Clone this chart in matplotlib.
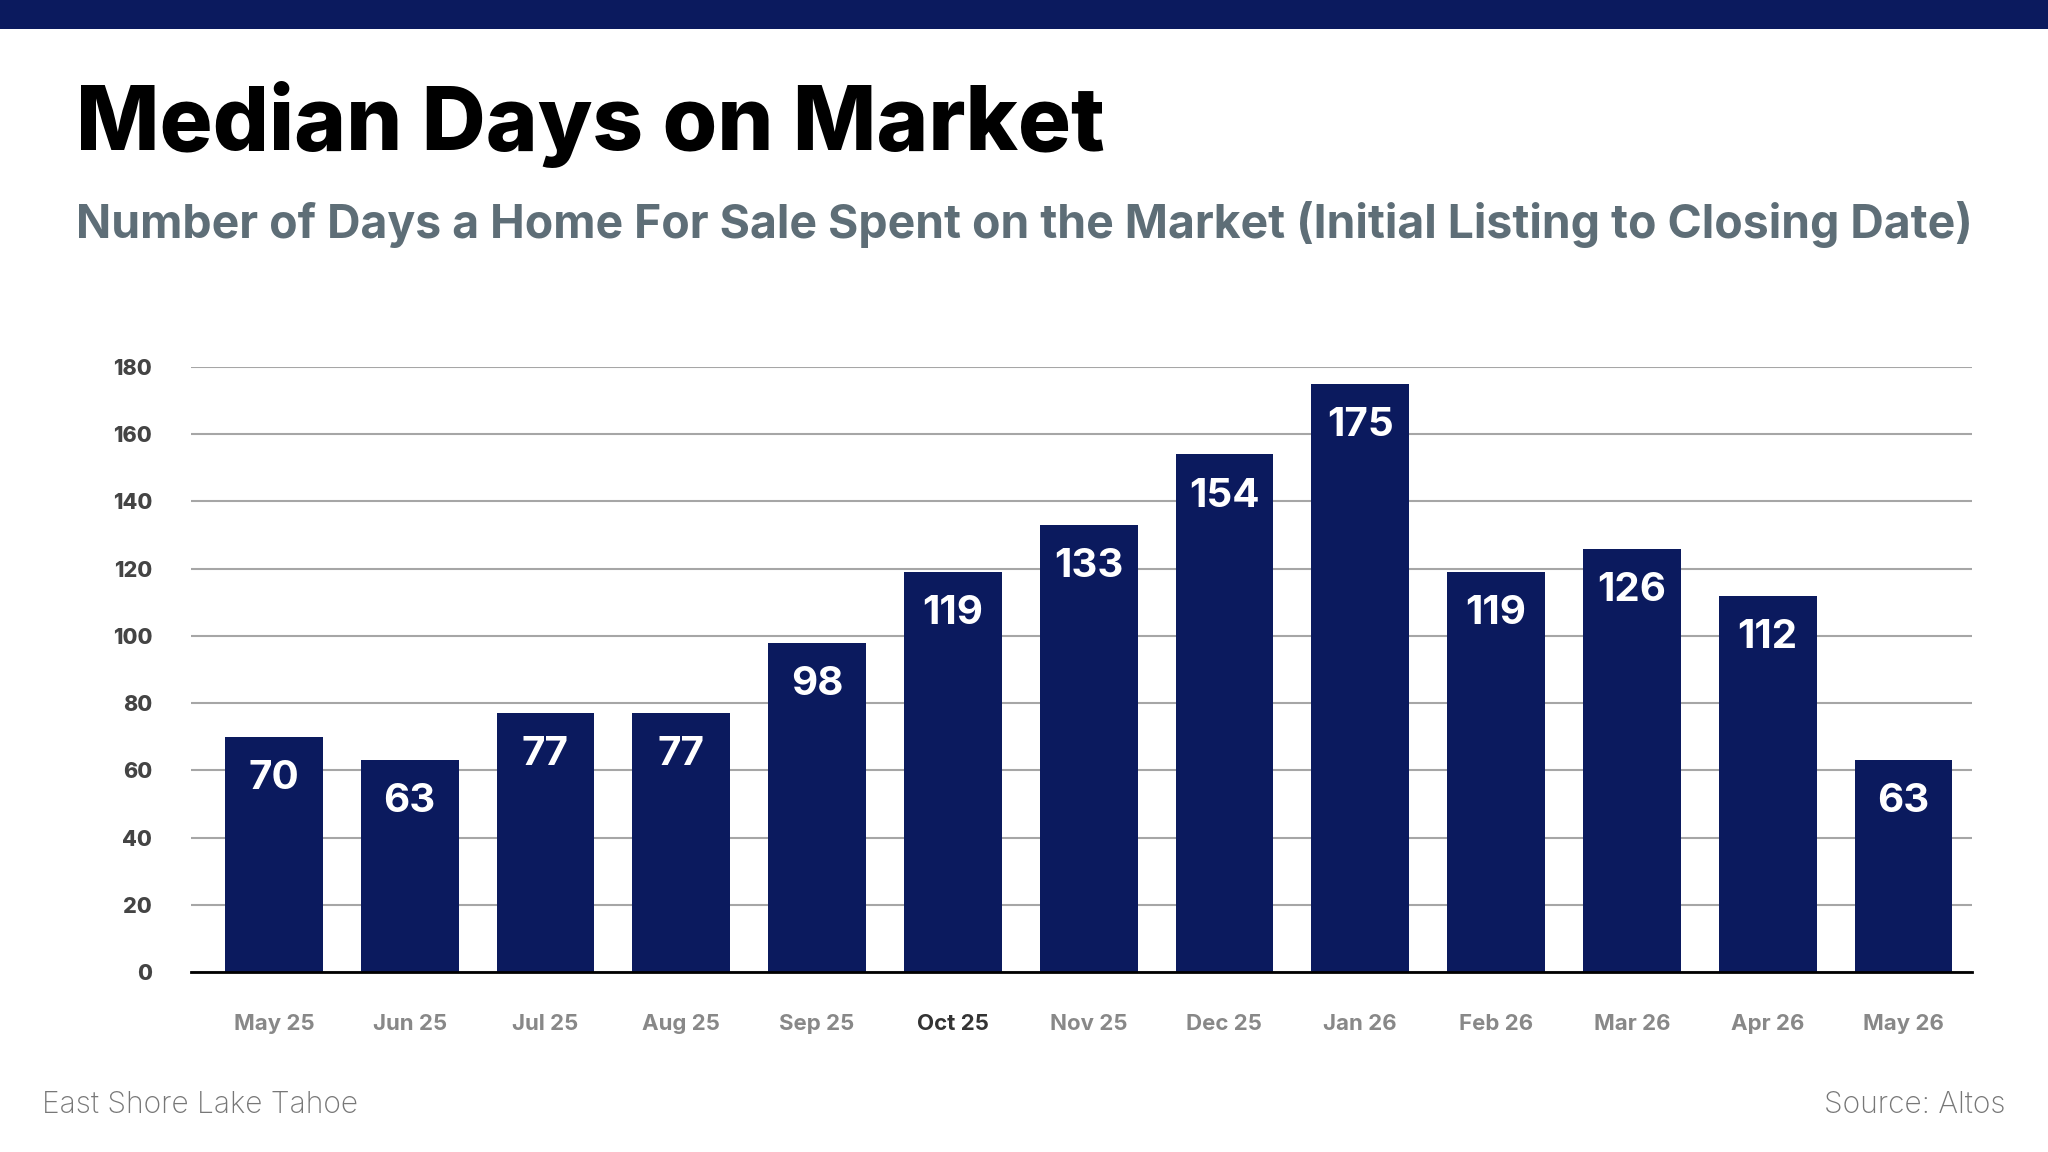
import matplotlib
matplotlib.use("Agg")
import matplotlib.pyplot as plt
from matplotlib.patches import Rectangle

months = ["May 25", "Jun 25", "Jul 25", "Aug 25", "Sep 25", "Oct 25", "Nov 25",
          "Dec 25", "Jan 26", "Feb 26", "Mar 26", "Apr 26", "May 26"]
median_days = [70, 63, 77, 77, 98, 119, 133, 154, 175, 119, 126, 112, 63]
y_ticks = [0, 20, 40, 60, 80, 100, 120, 140, 160, 180]

title = "Median Days on Market"
subtitle = "Number of Days a Home For Sale Spent on the Market (Initial Listing to Closing Date)"
footer_left = "East Shore Lake Tahoe"
footer_right = "Source: Altos"

NAVY = "#0B1A5E"
FONT = "Inter"

fig = plt.figure(figsize=(20.48, 11.52), dpi=100)
fig.patch.set_facecolor("white")

# top band
fig.add_artist(Rectangle((0, 1 - 29 / 1152), 1, 29 / 1152, transform=fig.transFigure,
                         facecolor=NAVY, edgecolor="none"))

fig.text(76 / 2048, 1 - 124 / 1152, title, fontsize=63.7, fontweight="heavy",
         family=FONT, color="black", ha="left", va="center")
fig.text(76 / 2048, 1 - 225 / 1152, subtitle, fontsize=33.4, fontweight="bold",
         family=FONT, color="#5E6E77", ha="left", va="center")

ax = fig.add_axes([191 / 2048, 1 - 972 / 1152, (1972 - 191) / 2048, (972 - 367) / 1152])
x = list(range(len(months)))
ax.bar(x, median_days, width=0.72, color=NAVY, zorder=3)
ax.set_xlim(-0.61, len(months) - 0.495)
ax.set_ylim(0, 180)
ax.set_yticks(y_ticks)
ax.set_yticklabels([str(v) for v in y_ticks], fontsize=15.5, fontweight="heavy",
                   family=FONT, color="#444444")
ax.set_xticks(x)
ax.set_xticklabels(months, fontsize=16, fontweight="bold", family=FONT, color="#888888")
ax.get_xticklabels()[5].set_color("#333333")
ax.tick_params(axis="both", length=0)
ax.tick_params(axis="y", pad=28)
ax.tick_params(axis="x", pad=30)
ax.grid(axis="y", color="#A6A6A6", linewidth=1.5, zorder=0)
for s in ["top", "right", "left"]:
    ax.spines[s].set_visible(False)
ax.spines["bottom"].set_color("black")
ax.spines["bottom"].set_linewidth(2)
ax.spines["bottom"].set_zorder(4)

for xi, v in zip(x, median_days):
    ax.annotate(str(v), (xi, v), xytext=(0, -30), textcoords="offset points",
                ha="center", va="center", color="white", fontsize=29,
                fontweight="bold", family=FONT, zorder=5)

fig.text(42 / 2048, 1 - 1105 / 1152, footer_left, fontsize=21.6, fontweight="light",
         family=FONT, color="#777777", ha="left", va="center")
fig.text(2006 / 2048, 1 - 1105 / 1152, footer_right, fontsize=21.6, fontweight="light",
         family=FONT, color="#777777", ha="right", va="center")

fig.savefig("out.png", dpi=100, facecolor="white")
